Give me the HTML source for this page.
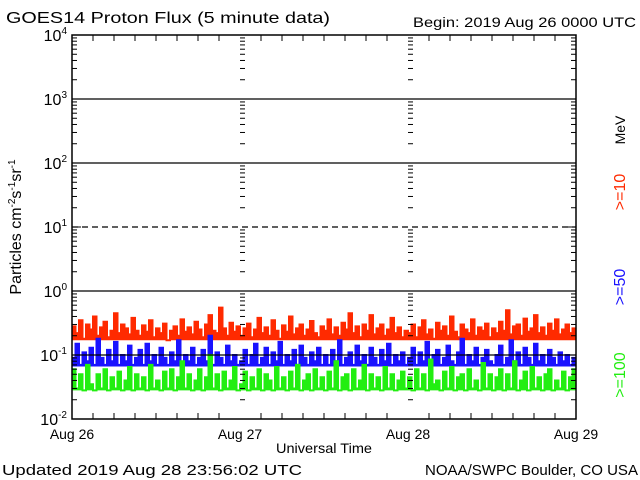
<!DOCTYPE html>
<html><head><meta charset="utf-8"><style>
body{margin:0;background:#fff}
svg{display:block;font-family:"Liberation Sans",sans-serif}
</style></head><body>
<svg id="c" width="640" height="480" viewBox="0 0 640 480">
<rect width="640" height="480" fill="#fff"/>
<text x="6" y="23" font-size="16" textLength="324" lengthAdjust="spacingAndGlyphs">GOES14 Proton Flux (5 minute data)</text>
<text x="413" y="27" font-size="14" textLength="223" lengthAdjust="spacingAndGlyphs">Begin: 2019 Aug 26 0000 UTC</text>
<text x="0" y="0" font-size="16" text-anchor="middle" transform="translate(21,227) rotate(-90)">Particles cm<tspan dy="-6" font-size="10">-2</tspan><tspan dy="6">s</tspan><tspan dy="-6" font-size="10">-1</tspan><tspan dy="6">sr</tspan><tspan dy="-6" font-size="10">-1</tspan></text>
<text x="0" y="0" font-size="14" text-anchor="middle" transform="translate(625,130) rotate(-90)">MeV</text>
<text x="0" y="0" font-size="16" fill="#ff2a00" text-anchor="middle" transform="translate(625,192) rotate(-90)">&gt;=10</text>
<text x="0" y="0" font-size="16" fill="#1a12ff" text-anchor="middle" transform="translate(625,287) rotate(-90)">&gt;=50</text>
<text x="0" y="0" font-size="16" fill="#22ee11" text-anchor="middle" transform="translate(625,375) rotate(-90)">&gt;=100</text>
<text x="276" y="453" font-size="14" textLength="96" lengthAdjust="spacingAndGlyphs">Universal Time</text>
<text x="2" y="475" font-size="15" textLength="300" lengthAdjust="spacingAndGlyphs">Updated 2019 Aug 28 23:56:02 UTC</text>
<text x="425" y="475" font-size="15" textLength="213" lengthAdjust="spacingAndGlyphs">NOAA/SWPC Boulder, CO USA</text>
<g id="marks"></g>
<g id="axes"></g>
</svg>
<script>
const dayLabels=["Aug 26","Aug 27","Aug 28","Aug 29"];
const decades=[-2,-1,0,1,2,3,4];
const red=[0.28,0.22,0.35,0.18,0.3,0.25,0.4,0.2,0.27,0.33,0.19,0.24,0.45,0.22,0.3,0.26,0.21,0.38,0.24,0.2,0.29,0.23,0.35,0.19,
0.26,0.22,0.31,0.17,0.24,0.28,0.2,0.36,0.23,0.27,0.21,0.33,0.25,0.19,0.3,0.42,0.24,0.22,0.55,0.26,0.2,0.32,0.23,0.28,
0.2,0.26,0.31,0.19,0.25,0.38,0.22,0.27,0.2,0.35,0.24,0.18,0.29,0.23,0.4,0.21,0.26,0.3,0.2,0.25,0.34,0.22,0.19,0.28,
0.24,0.36,0.21,0.27,0.2,0.32,0.25,0.45,0.22,0.28,0.19,0.3,0.24,0.42,0.21,0.26,0.3,0.2,0.25,0.38,0.22,0.27,0.19,0.24,
0.22,0.3,0.19,0.27,0.35,0.21,0.25,0.18,0.32,0.24,0.28,0.2,0.4,0.23,0.19,0.3,0.25,0.22,0.36,0.2,0.27,0.24,0.31,0.19,
0.26,0.22,0.33,0.24,0.5,0.21,0.28,0.3,0.2,0.37,0.23,0.26,0.42,0.22,0.27,0.2,0.31,0.24,0.36,0.21,0.25,0.3,0.22,0.26];
const blue=[0.09,0.15,0.07,0.11,0.08,0.13,0.07,0.18,0.09,0.07,0.12,0.08,0.16,0.07,0.1,0.08,0.14,0.07,0.09,0.12,0.07,0.15,0.08,0.1,
0.07,0.13,0.09,0.07,0.11,0.08,0.17,0.07,0.1,0.08,0.13,0.07,0.09,0.12,0.08,0.2,0.07,0.11,0.09,0.07,0.14,0.08,0.1,0.07,
0.08,0.12,0.07,0.1,0.15,0.07,0.09,0.13,0.07,0.11,0.08,0.16,0.07,0.1,0.08,0.12,0.07,0.14,0.09,0.07,0.11,0.08,0.13,0.07,
0.1,0.07,0.12,0.08,0.17,0.07,0.09,0.11,0.07,0.14,0.08,0.1,0.07,0.13,0.09,0.07,0.12,0.08,0.15,0.07,0.1,0.08,0.11,0.07,
0.09,0.13,0.07,0.11,0.08,0.16,0.07,0.1,0.12,0.07,0.09,0.14,0.08,0.07,0.11,0.18,0.07,0.1,0.08,0.13,0.07,0.09,0.12,0.08,
0.07,0.1,0.14,0.07,0.09,0.17,0.08,0.11,0.07,0.13,0.09,0.07,0.15,0.08,0.1,0.07,0.12,0.09,0.07,0.11,0.08,0.1,0.07,0.09];
const green=[0.06,0.03,0.05,0.028,0.07,0.035,0.028,0.05,0.03,0.06,0.028,0.045,0.03,0.055,0.028,0.04,0.065,0.028,0.05,0.03,0.045,0.028,0.07,0.03,
0.04,0.028,0.055,0.03,0.06,0.028,0.045,0.08,0.03,0.05,0.028,0.04,0.06,0.028,0.045,0.1,0.03,0.05,0.028,0.055,0.03,0.04,0.065,0.028,
0.035,0.055,0.028,0.045,0.03,0.06,0.028,0.05,0.04,0.028,0.065,0.03,0.045,0.028,0.055,0.03,0.07,0.028,0.04,0.05,0.028,0.06,0.03,0.045,
0.028,0.055,0.03,0.08,0.028,0.045,0.05,0.028,0.06,0.03,0.04,0.07,0.028,0.05,0.03,0.045,0.028,0.065,0.03,0.05,0.028,0.04,0.055,0.03,
0.045,0.028,0.06,0.03,0.05,0.028,0.085,0.035,0.04,0.028,0.055,0.03,0.065,0.028,0.045,0.05,0.028,0.06,0.03,0.04,0.028,0.075,0.03,0.05,
0.028,0.045,0.06,0.028,0.05,0.03,0.08,0.028,0.04,0.055,0.028,0.065,0.03,0.045,0.028,0.05,0.06,0.028,0.04,0.03,0.055,0.028,0.045,0.06];

const NS="http://www.w3.org/2000/svg";
const X0=72,X1=576,Y0=419,DEC=64;
function xs(h){return X0+h/72*(X1-X0);}
function ys(v){return Y0-(Math.log10(v)+2)*DEC;}
function mk(tag,attrs,parent){const e=document.createElementNS(NS,tag);for(const k in attrs)e.setAttribute(k,attrs[k]);parent.appendChild(e);return e;}
const marks=document.getElementById('marks'),axes=document.getElementById('axes');

function series(arr,color,base,name){
  const dt=72/arr.length;let d="";
  arr.forEach((v,i)=>{const x1=xs(i*dt),x2=xs((i+1)*dt),y=ys(v);d+=(i?"L":"M")+x1.toFixed(1)+" "+y.toFixed(1)+"L"+x2.toFixed(1)+" "+y.toFixed(1);});
  const yb=ys(base).toFixed(1);
  const area=d+"L"+xs(72).toFixed(1)+" "+yb+"L"+xs(0).toFixed(1)+" "+yb+"Z";
  const a=mk('path',{d:area,fill:color,stroke:'none'},marks);
  
  
  const p=mk('path',{d:d,fill:'none',stroke:color,'stroke-width':2},marks);
  
  
}
series(red,'#ff2a00',0.17,'series-10mev');
series(blue,'#1a12ff',0.066,'series-50mev');
series(green,'#22ee11',0.028,'series-100mev');

decades.forEach(d=>{
  if(d===-2||d===4)return;
  const y=ys(Math.pow(10,d));
  const l=mk('line',{x1:X0,x2:X1,y1:y,y2:y,stroke:'#000','stroke-width':1.3},axes);
  if(d===1)l.setAttribute('stroke-dasharray','6,4');
  
  
});
const fr=mk('rect',{x:X0,y:ys(1e4),width:X1-X0,height:Y0-ys(1e4),fill:'none',stroke:'#000','stroke-width':1.5},axes);


const ytk=mk('g',{stroke:'#000','stroke-width':1},axes);


decades.forEach(d=>{
  if(d<4){for(let m=2;m<=9;m++){const y=ys(m*Math.pow(10,d));
    [[X0,X0+5],[X1-5,X1],[xs(24),xs(24)+5],[xs(48),xs(48)+5]].forEach(s=>mk('line',{x1:s[0],x2:s[1],y1:y,y2:y},ytk));}}
  const y=ys(Math.pow(10,d));
  [[X0,X0+9],[X1-9,X1]].forEach(s=>mk('line',{x1:s[0],x2:s[1],y1:y,y2:y},ytk));
  const t=mk('text',{x:X0-5,y:y+6,'font-size':16,'text-anchor':'end',stroke:'none'},axes);
  t.innerHTML='10<tspan dy="-7" font-size="10">'+d+'</tspan>';
  
  
});
for(let h=0;h<=72;h+=3){const x=xs(h),len=h%24===0?0:6;
  if(len){mk('line',{x1:x,x2:x,y1:Y0,y2:Y0-len},ytk);mk('line',{x1:x,x2:x,y1:ys(1e4),y2:ys(1e4)+len},ytk);}}
dayLabels.forEach((s,i)=>{
  const t=mk('text',{x:xs(i*24),y:439,'font-size':14,'text-anchor':'middle'},axes);
  t.textContent=s;
  
  
});
</script>
</body></html>
